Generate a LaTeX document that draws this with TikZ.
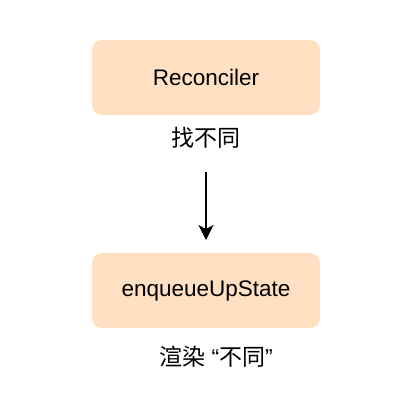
\documentclass[tikz,border=0pt]{standalone}
\usepackage{fontspec}
\setmainfont{Liberation Sans}
\newfontfamily\cjk{Noto Sans CJK SC}
\usetikzlibrary{arrows.meta}
\begin{document}
\begin{tikzpicture}[x=1pt,y=-1pt,
  box/.style={draw=none,fill=boxfill,rounded corners=10pt,minimum width=228pt,minimum height=75pt,inner sep=0pt,font=\fontsize{22.5}{26}\selectfont},
  lbl/.style={font=\fontsize{23}{27}\selectfont,inner sep=0pt},
  arr/.style={line width=1.3pt,-{Stealth[length=15pt,width=15pt,inset=4pt]}}]
\definecolor{boxfill}{HTML}{FFE0C2}
\useasboundingbox (0,0) rectangle (408,410);
\node[box] (rec) at (206,77.5) {Reconciler};
\node[lbl] (l1) at (206,138) {\cjk 找不同};
\coordinate (a1) at (206,172);
\coordinate (a2) at (206,240);
\draw[arr] (a1) -- (a2);
\node[box] (enq) at (206,290.5) {enqueueUpState};
\node[lbl] (l2) at (216,357) {{\cjk 渲染} “{\cjk 不同}”};
\end{tikzpicture}
\end{document}
